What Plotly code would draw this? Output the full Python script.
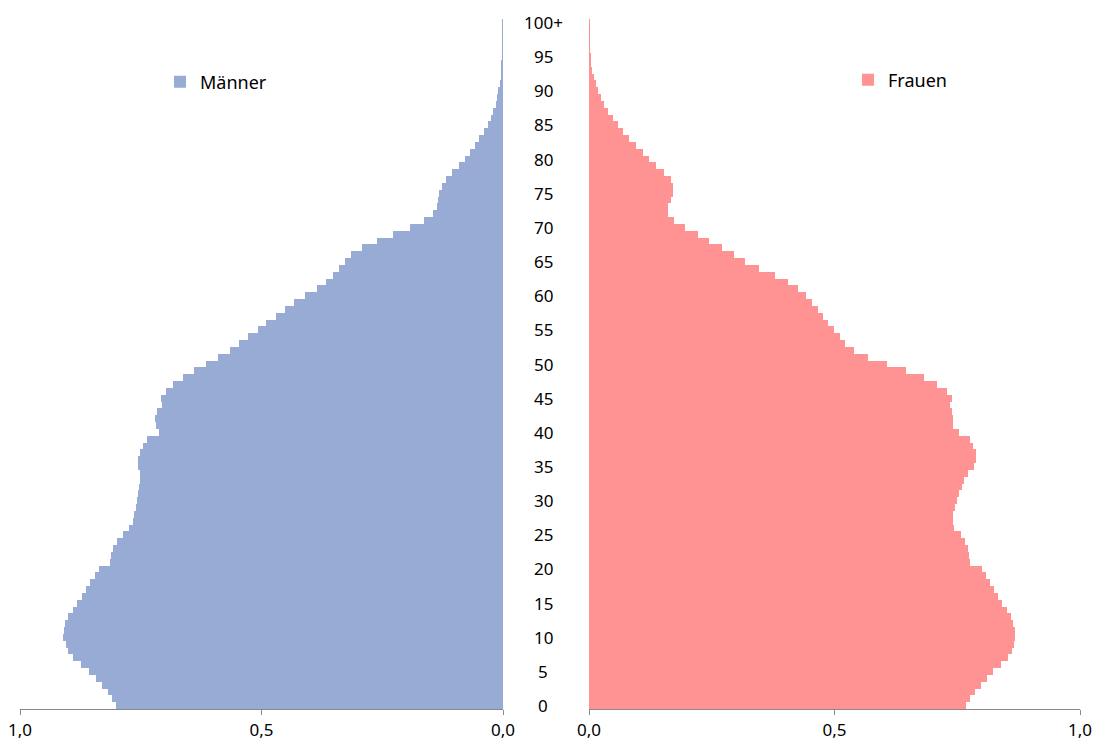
import plotly.graph_objects as go

ages = list(range(0, 101))

maenner = [
    0.801, 0.809, 0.818, 0.830, 0.843, 0.857, 0.874, 0.891, 0.900, 0.905,
    0.910, 0.909, 0.907, 0.900, 0.891, 0.881, 0.872, 0.863, 0.855, 0.845,
    0.836, 0.814, 0.811, 0.808, 0.800, 0.786, 0.774, 0.767, 0.764, 0.760,
    0.757, 0.756, 0.754, 0.751, 0.751, 0.756, 0.756, 0.752, 0.745, 0.738,
    0.712, 0.718, 0.720, 0.716, 0.707, 0.708, 0.697, 0.683, 0.662, 0.640,
    0.615, 0.590, 0.565, 0.546, 0.527, 0.508, 0.490, 0.471, 0.452, 0.432,
    0.410, 0.385, 0.366, 0.352, 0.340, 0.327, 0.314, 0.292, 0.261, 0.227,
    0.192, 0.163, 0.145, 0.136, 0.134, 0.132, 0.127, 0.118, 0.105, 0.092,
    0.079, 0.068, 0.058, 0.049, 0.040, 0.032, 0.025, 0.020, 0.015, 0.012,
    0.0095, 0.0065, 0.0044, 0.0030, 0.0022, 0.0015, 0.0010, 0.0007, 0.0005, 0.0003,
    0.0003,
]

frauen = [
    0.767, 0.776, 0.786, 0.798, 0.810, 0.823, 0.839, 0.853, 0.862, 0.866,
    0.867, 0.867, 0.864, 0.859, 0.851, 0.842, 0.834, 0.824, 0.816, 0.809,
    0.800, 0.776, 0.773, 0.771, 0.766, 0.757, 0.744, 0.741, 0.742, 0.745,
    0.749, 0.754, 0.759, 0.764, 0.771, 0.784, 0.789, 0.789, 0.782, 0.776,
    0.753, 0.741, 0.741, 0.739, 0.736, 0.739, 0.729, 0.709, 0.682, 0.646,
    0.606, 0.568, 0.539, 0.521, 0.511, 0.499, 0.487, 0.476, 0.466, 0.455,
    0.442, 0.426, 0.406, 0.378, 0.346, 0.318, 0.295, 0.270, 0.245, 0.221,
    0.196, 0.173, 0.161, 0.161, 0.166, 0.171, 0.171, 0.166, 0.153, 0.137,
    0.123, 0.109, 0.095, 0.082, 0.069, 0.059, 0.048, 0.039, 0.030, 0.025,
    0.019, 0.014, 0.010, 0.0064, 0.0036, 0.0021, 0.0014, 0.0009, 0.0005, 0.0003,
    0.0003,
]

age_tick_vals = list(range(0, 101, 5))
age_tick_text = [str(v) for v in range(0, 100, 5)] + ["100+"]

x_tick_vals = [0.0, 0.5, 1.0]

FONT = "Noto Sans"
BLUE = "#97ABD4"
PINK = "#FF9393"
AXIS = "#898989"

W, H = 1096, 742
ML, MR, MT, MB = 20, 16, 19, 33
PW = W - ML - MR
PH = H - MT - MB

def px(xp):
    return (xp - ML) / PW

fig = go.Figure()
fig.add_trace(go.Bar(
    x=maenner, y=ages, orientation="h", name="Männer",
    marker=dict(color=BLUE, line=dict(width=0)),
    xaxis="x", yaxis="y", legend="legend",
))
fig.add_trace(go.Bar(
    x=frauen, y=ages, orientation="h", name="Frauen",
    marker=dict(color=PINK, line=dict(width=0)),
    xaxis="x2", yaxis="y", legend="legend2",
))

axis_common = dict(
    tickvals=x_tick_vals, tickformat=".1f",
    showline=True, linecolor=AXIS, linewidth=1.3,
    ticks="outside", ticklen=5, tickcolor=AXIS, tickwidth=1.3,
    showgrid=False, zeroline=False, automargin=False,
    tickfont=dict(family=FONT, size=17, color="#000000"),
    fixedrange=True,
)

for v, t in zip(age_tick_vals, age_tick_text):
    fig.add_annotation(
        x=px(543), xref="paper", y=v, yref="y", text=t, showarrow=False,
        xanchor="center", yanchor="middle",
        font=dict(family=FONT, size=17, color="#000000"),
    )

fig.update_layout(
    width=W, height=H, autosize=False,
    margin=dict(l=ML, r=MR, t=MT, b=MB, autoexpand=False),
    paper_bgcolor="white", plot_bgcolor="white",
    separators=", ",
    bargap=0, barmode="overlay",
    hovermode=False,
    xaxis=dict(domain=[0, px(503)], range=[1, 0], anchor="y", **axis_common),
    xaxis2=dict(domain=[px(589), 1], range=[0, 1], anchor="y", **axis_common),
    yaxis=dict(range=[-0.5, 100.5], showticklabels=False, showgrid=False,
               zeroline=False, showline=False, ticks="", fixedrange=True,
               automargin=False),
    legend=dict(x=px(160), y=1 - (82 - MT) / PH, xanchor="left",
                yanchor="middle", font=dict(family=FONT, size=18, color="#000000"),
                bgcolor="rgba(0,0,0,0)"),
    legend2=dict(x=px(848), y=1 - (80 - MT) / PH, xanchor="left",
                 yanchor="middle", font=dict(family=FONT, size=18, color="#000000"),
                 bgcolor="rgba(0,0,0,0)"),
    showlegend=True,
)

post = (
    "document.documentElement.style.margin='0px';"
    "document.documentElement.style.overflow='hidden';"
    "document.body.style.margin='0px';"
    "document.body.style.overflow='hidden';"
)

fig.write_html(
    "out.html",
    config={"displayModeBar": False},
    post_script=post,
)
